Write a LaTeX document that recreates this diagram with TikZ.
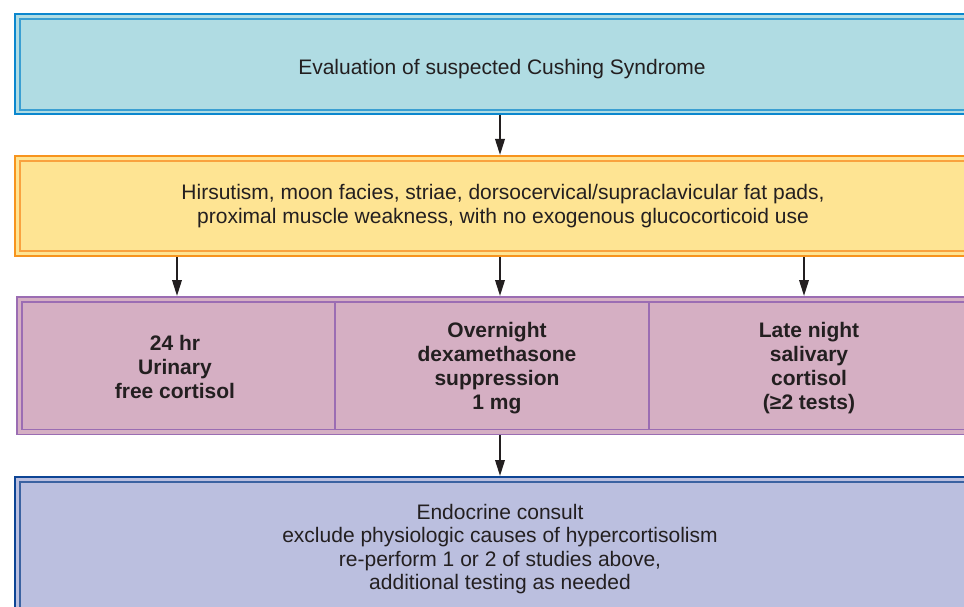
\documentclass[tikz,border=0pt]{standalone}
\usepackage{fontspec}
\setmainfont{Liberation Sans}
\usetikzlibrary{arrows.meta}

\definecolor{inktext}{HTML}{231F20}
\definecolor{cyanfill}{HTML}{B0DCE3}
\definecolor{cyanedge}{HTML}{0B87CE}
\definecolor{cyaninner}{HTML}{3A9FD2}
\definecolor{yellowfill}{HTML}{FEE493}
\definecolor{orangeedge}{HTML}{F7941E}
\definecolor{orangeinner}{HTML}{F9A23F}
\definecolor{mauvefill}{HTML}{D5AFC3}
\definecolor{purpleedge}{HTML}{9B6DB3}
\definecolor{bluefill}{HTML}{BBBFDF}
\definecolor{navyedge}{HTML}{0E4595}
\definecolor{navyinner}{HTML}{3B62A1}

\tikzset{
  panel/.style={rectangle, draw, line width=2pt, inner sep=0pt, anchor=north west},
  frame/.style={line width=1.4pt},
  label/.style={text=inktext, align=center, inner sep=0pt,
    font=\fontsize{21}{23.6}\selectfont},
  boldlabel/.style={label, font=\fontsize{21}{24}\selectfont\bfseries},
  arr/.style={draw=inktext, line width=2pt,
    -{Triangle[length=16pt,width=9.5pt]}}
}

\begin{document}
\begin{tikzpicture}[x=1pt,y=-1pt]
\useasboundingbox (0,0) rectangle (964,607);
\clip (0,0) rectangle (964,607);

% outer panels
\node[panel, draw=cyanedge, fill=cyanfill,
      minimum width=955.5pt, minimum height=100pt] (b1) at (14,13) {};
\node[panel, draw=orangeedge, fill=yellowfill,
      minimum width=955.5pt, minimum height=100pt] (b2) at (14,155) {};
\node[panel, draw=purpleedge, fill=mauvefill, line width=1.7pt,
      minimum width=953.5pt, minimum height=137.5pt] (b3) at (16,296) {};
\node[panel, draw=navyedge, fill=bluefill,
      minimum width=955.5pt, minimum height=160pt] (b4) at (14,476) {};

% inner frames
\draw[frame, cyaninner] ([shift={(6,6)}]b1.north west) rectangle ([shift={(-6,-5)}]b1.south east);
\draw[frame, orangeinner] ([shift={(6,6)}]b2.north west) rectangle ([shift={(-6,-6)}]b2.south east);
\draw[frame, purpleedge] ([shift={(6,6)}]b3.north west) rectangle ([shift={(-6,-6)}]b3.south east);
\draw[frame, navyinner] ([shift={(6,6)}]b4.north west) rectangle ([shift={(-6,-6)}]b4.south east);

% column dividers of the test panel
\coordinate (d1) at (335,0);
\coordinate (d2) at (649,0);
\draw[purpleedge, line width=1.1pt] ([yshift=-6.5pt]b3.north -| d1) -- ([yshift=6.5pt]b3.south -| d1);
\draw[purpleedge, line width=1.1pt] ([yshift=-6.5pt]b3.north -| d2) -- ([yshift=6.5pt]b3.south -| d2);

% texts
\node[label, anchor=base] (t1) at (502,74.5) {Evaluation of suspected Cushing Syndrome};
\node[label] (t2) at (503,206) {Hirsutism, moon facies, striae, dorsocervical/supraclavicular fat pads,\\
  proximal muscle weakness, with no exogenous glucocorticoid use};
\node[boldlabel] (t3a) at (175,366.5) {24 hr\\Urinary\\free cortisol};
\node[boldlabel] (t3b) at (497,368) {Overnight\\dexamethasone\\suppression\\1 mg};
\node[boldlabel] (t3c) at (809,368) {Late night\\salivary\\cortisol\\(≥2 tests)};
\node[label] (t4) at (500,549) {Endocrine consult\\
  exclude physiologic causes of hypercortisolism\\
  re-perform 1 or 2 of studies above,\\
  additional testing as needed};

% connectors
\coordinate (xl) at (177,0);
\coordinate (xm) at (500,0);
\coordinate (xr) at (804,0);
\draw[arr] (b1.south -| xm) -- (b2.north -| xm);
\draw[arr] (b2.south -| xl) -- (b3.north -| xl);
\draw[arr] (b2.south -| xm) -- (b3.north -| xm);
\draw[arr] (b2.south -| xr) -- (b3.north -| xr);
\draw[arr] (b3.south -| xm) -- (b4.north -| xm);
\end{tikzpicture}
\end{document}
